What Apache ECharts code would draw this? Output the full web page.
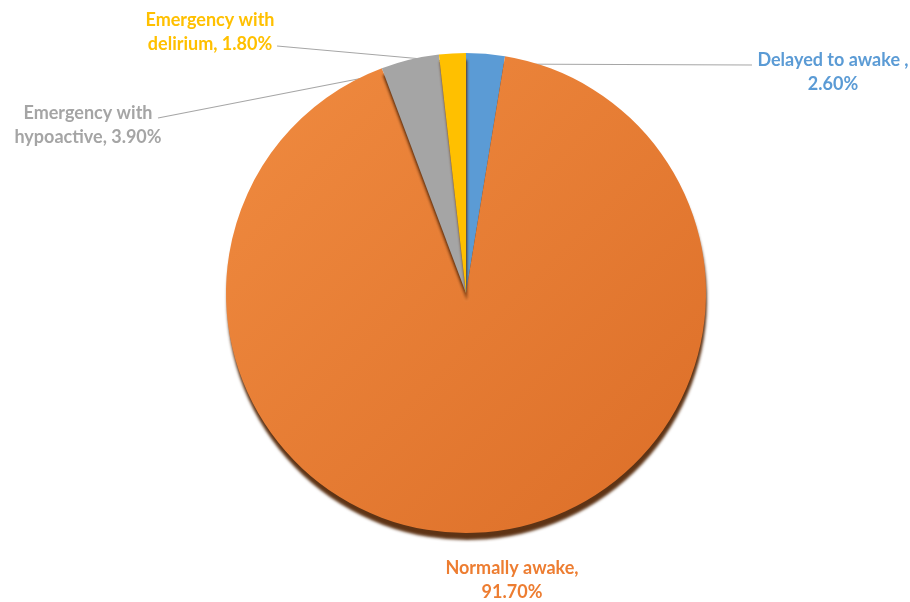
<!DOCTYPE html>
<html>
<head>
<meta charset="utf-8">
<script src="https://cdn.jsdelivr.net/npm/echarts@6/dist/echarts.min.js"></script>
<style>html,body{margin:0;padding:0;background:#fff}#c{width:910px;height:602px}</style>
</head>
<body>
<div id="c"></div>
<script>
var categories = ['Delayed to awake ', 'Normally awake', 'Emergency with hypoactive', 'Emergency with delirium'];
var labelNames = ['Delayed to awake ,\n', 'Normally awake,\n', 'Emergency with\nhypoactive, ', 'Emergency with\ndelirium, '];
var values = [2.6, 91.7, 3.9, 1.8];
var colors = ['#5B9BD5', '#ED7D31', '#A5A5A5', '#FFC000'];
var labelPos = [
  {x: 833, y: 72},
  {x: 512, y: 580},
  {x: 88, y: 125},
  {x: 210, y: 32}
];
var leaderPts = [
  [[488, 64], [620, 64.5], [752, 65]],
  null,
  [[440, 63], [299, 90.5], [158, 118]],
  [[456, 62], [366.5, 54], [277, 46]]
];

var chart = echarts.init(document.getElementById('c'));
var data = categories.map(function (c, i) {
  var item = {
    name: c,
    value: values[i],
    itemStyle: {color: colors[i]},
    label: {color: colors[i]}
  };
  if (i === 1) {
    item.itemStyle.color = {
      type: 'linear', x: 0, y: 0, x2: 1, y2: 1,
      colorStops: [{offset: 0, color: '#F08B40'}, {offset: 1, color: '#DC6E28'}]
    };
    item.labelLine = {show: false};
  }
  return item;
});

chart.setOption({
  animation: false,
  series: [{
    type: 'pie',
    center: [466, 293],
    radius: 240,
    startAngle: 90,
    clockwise: true,
    data: data,
    itemStyle: {
      shadowColor: 'rgba(85,40,8,0.95)',
      shadowOffsetY: 7,
      shadowOffsetX: 1,
      shadowBlur: 3
    },
    label: {
      show: true,
      fontFamily: 'Lato',
      fontWeight: 'bold',
      fontSize: 18,
      lineHeight: 24,
      align: 'center',
      formatter: function (p) {
        return labelNames[p.dataIndex] + p.value.toFixed(2) + '%';
      }
    },
    labelLine: {
      show: true,
      lineStyle: {color: '#A6A6A6', width: 1.2},
      length: 10,
      length2: 10
    },
    labelLayout: function (p) {
      var pos = labelPos[p.dataIndex];
      var r = {x: pos.x, y: pos.y, align: 'center', verticalAlign: 'middle'};
      if (leaderPts[p.dataIndex]) r.labelLinePoints = leaderPts[p.dataIndex];
      return r;
    }
  }]
});
</script>
</body>
</html>
